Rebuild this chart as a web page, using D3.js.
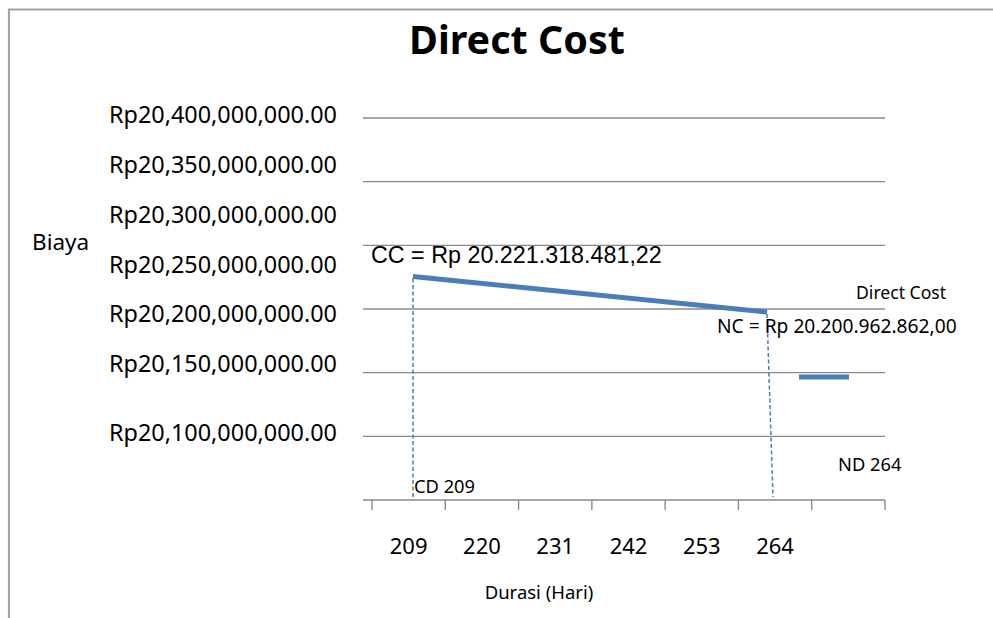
<!DOCTYPE html>
<html>
<head>
<meta charset="utf-8">
<script src="https://cdn.jsdelivr.net/npm/d3@7"></script>
<style>
  html, body { margin: 0; padding: 0; background: #ffffff; }
  svg { display: block; }
  text { font-family: "Noto Sans", "DejaVu Sans", sans-serif; fill: #000; }
</style>
</head>
<body>
<svg id="chart" width="993" height="618"></svg>
<script>
// ---- data ----
const chartTitle = "Direct Cost";
const seriesName = "Direct Cost";
const yAxisTitle = "Biaya";
const xAxisTitle = "Durasi (Hari)";
const durationCategories = ["209", "220", "231", "242", "253", "264", ""];
const yTickValues = [20100000000, 20150000000, 20200000000, 20250000000,
                     20300000000, 20350000000, 20400000000];
const costDays = [209, 264];
const costValues = [20221318481.22, 20200962862.00];
const pointTags = ["CC", "NC"];
const durationTags = ["CD", "ND"];

// ---- number formats ----
const enLocale = d3.formatLocale({ decimal: ".", thousands: ",", grouping: [3], currency: ["Rp", ""] });
const idLocale = d3.formatLocale({ decimal: ",", thousands: ".", grouping: [3], currency: ["Rp ", ""] });
const fmtTick = enLocale.format("$,.2f");
const fmtCost = idLocale.format("$,.2f");

const svg = d3.select("#chart");

// outer frame
svg.append("path")
  .attr("d", "M9,618 V9.5 H993")
  .attr("fill", "none")
  .attr("stroke", "#a3a3a3")
  .attr("stroke-width", 2.2);

// ---- scales ----
const plotLeft = 363, plotRight = 885, axisY = 500, topY = 118;
const xBand = d3.scaleBand().domain(durationCategories).range([372, plotRight]).padding(0);
const gridY = d3.scaleLinear().domain([yTickValues[0], yTickValues[yTickValues.length - 1]]).range([axisY, topY]);
const labelY = d3.scaleLinear().domain([20100000000, 20150000000, 20400000000]).range([441, 372, 123.3]);
const xDay = d3.scaleLinear().domain(costDays).range([413, 767]);
const yCost = d3.scaleLinear().domain([20200000000, 20250000000]).range([313.7, 226.5]);

// title
svg.append("text")
  .attr("x", 517).attr("y", 54)
  .attr("text-anchor", "middle")
  .style("font-size", "39.5px").style("font-weight", "bold")
  .text(chartTitle);

// gridlines (lowest one is the category axis)
svg.append("g").selectAll("line")
  .data(yTickValues)
  .join("line")
  .attr("x1", plotLeft).attr("x2", plotRight)
  .attr("y1", d => gridY(d)).attr("y2", d => gridY(d))
  .attr("stroke", "#8a8a8a")
  .attr("stroke-width", 1.4);

// value labels
svg.append("g").selectAll("text")
  .data(yTickValues)
  .join("text")
  .attr("x", 109)
  .attr("y", d => labelY(d))
  .style("font-size", "23.4px")
  .text(d => fmtTick(d));

// y axis title
svg.append("text")
  .attr("x", 32).attr("y", 250)
  .style("font-size", "22.5px")
  .text(yAxisTitle);

// category axis ticks and labels
const xAxis = d3.axisBottom(xBand).tickSize(0).tickFormat(d => d);
const gx = svg.append("g").attr("transform", `translate(0,${axisY})`).call(xAxis);
gx.select(".domain").remove();
gx.selectAll(".tick text")
  .attr("dy", null)
  .attr("y", 54)
  .style("font-family", "'Noto Sans', sans-serif")
  .style("font-size", "22px")
  .attr("fill", "#000");

const tickEdges = durationCategories.map(c => xBand(c)).concat([plotRight]);
svg.append("g").selectAll("line")
  .data(tickEdges)
  .join("line")
  .attr("x1", d => d).attr("x2", d => d)
  .attr("y1", axisY).attr("y2", axisY + 10)
  .attr("stroke", "#8a8a8a")
  .attr("stroke-width", 1.4);

svg.append("text")
  .attr("x", 539).attr("y", 599)
  .attr("text-anchor", "middle")
  .style("font-size", "18.5px")
  .text(xAxisTitle);

// dashed drop lines from each cost point to the duration axis
const drops = costDays.map((d, i) => ({ day: d, cost: costValues[i], lean: i === 0 ? 0 : 6 }));
svg.append("g").selectAll("line")
  .data(drops)
  .join("line")
  .attr("x1", d => xDay(d.day)).attr("y1", d => yCost(d.cost) + 2)
  .attr("x2", d => xDay(d.day) + d.lean).attr("y2", axisY - 3)
  .attr("stroke", "#4a7ebb")
  .attr("stroke-width", 1.5)
  .attr("stroke-dasharray", "4,2.5");

// direct cost line
const line = d3.line().x(d => xDay(d.day)).y(d => yCost(d.cost));
svg.append("path")
  .datum(drops)
  .attr("d", line)
  .attr("fill", "none")
  .attr("stroke", "#4a7ebb")
  .attr("stroke-width", 5);

// point annotations
svg.append("text")
  .attr("x", 371).attr("y", 263)
  .style("font-family", "'Liberation Sans', Arial, sans-serif")
  .style("font-size", "23.3px")
  .text(`${pointTags[0]} = ${fmtCost(costValues[0])}`);

svg.append("text")
  .attr("x", 717).attr("y", 333)
  .style("font-size", "19.2px")
  .text(`${pointTags[1]} = ${fmtCost(costValues[1])}`);

svg.append("text")
  .attr("x", 414).attr("y", 493)
  .style("font-size", "18.3px")
  .text(`${durationTags[0]} ${costDays[0]}`);

svg.append("text")
  .attr("x", 838).attr("y", 471)
  .style("font-size", "18.3px")
  .text(`${durationTags[1]} ${costDays[1]}`);

// legend
svg.append("text")
  .attr("x", 856).attr("y", 299)
  .style("font-size", "17.6px")
  .text(seriesName);
svg.append("line")
  .attr("x1", 799).attr("x2", 849)
  .attr("y1", 377).attr("y2", 377)
  .attr("stroke", "#4a7ebb")
  .attr("stroke-width", 5);
</script>
</body>
</html>
